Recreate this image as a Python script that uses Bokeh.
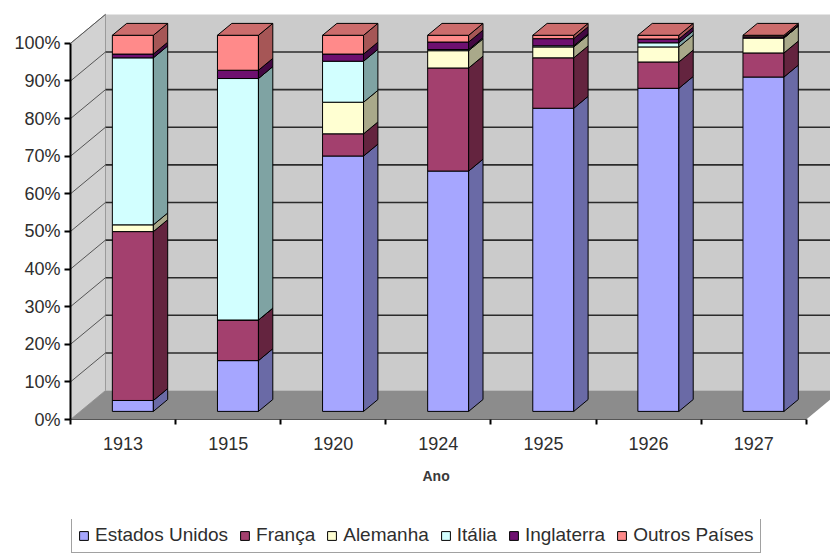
import numpy as np
from bokeh.plotting import figure
from bokeh.layouts import column
from bokeh.models import FixedTicker, Legend, LegendItem, PrintfTickFormatter, Title
from bokeh.embed import file_html
from bokeh.resources import INLINE

# ---------------- data (percent of total) ----------------
years = ["1913", "1915", "1920", "1924", "1925", "1926", "1927"]
series_names = ["Estados Unidos", "França", "Alemanha", "Itália", "Inglaterra", "Outros Países"]
estados_unidos = [2.9, 13.5, 67.9, 63.9, 80.6, 85.9, 88.9]
franca = [44.9, 10.8, 5.9, 27.4, 13.4, 7.0, 6.4]
alemanha = [1.8, 0.0, 8.4, 4.6, 2.9, 4.0, 4.0]
italia = [44.4, 64.2, 10.9, 0.3, 0.3, 1.1, 0.0]
inglaterra = [1.0, 2.2, 1.9, 2.0, 1.9, 1.0, 0.3]
outros = [5.0, 9.3, 5.0, 1.8, 0.9, 1.0, 0.4]
y_ticks = [0, 10, 20, 30, 40, 50, 60, 70, 80, 90, 100]
x_title = "Ano"

# ---------------- styles ----------------
front_colors = ["#a6a6ff", "#a3406e", "#ffffd2", "#d2ffff", "#6e1070", "#ff8a8a"]
side_colors = ["#6a6aa6", "#64243f", "#a9a98a", "#7fa3a3", "#430843", "#a65656"]
top_color = "#cc6c6c"
wall_color = "#cbcbcb"
left_wall_color = "#d2d2d2"
floor_color = "#8c8c8c"
FONT = "Liberation Sans"
TEXT_COLOR = "#2e2e2e"

DX = 0.333   # depth of the 3D box along x (category units)
DY = 7.7     # depth of the 3D box along y (percent units)
Z_FRONT = 0.28
Z_BACK = 0.69
BAR_W = 0.39

N = len(years)
X_MAX = 7.231
Y_MAX = 111.4

p = figure(width=830, height=519, x_range=(0, X_MAX), y_range=(0, Y_MAX),
           output_backend="svg", toolbar_location=None,
           min_border_left=70, min_border_right=0, min_border_top=0, min_border_bottom=100)
p.outline_line_color = None
p.xgrid.visible = False
p.ygrid.visible = False
p.background_fill_color = "white"
p.border_fill_color = "white"

# ---------------- walls and floor ----------------
p.patch([DX, N + DX, N + DX, DX], [DY, DY, 100 + DY, 100 + DY],
        fill_color=wall_color, line_color=None)
p.patch([0, DX, DX, 0], [0, DY, 100 + DY, 100],
        fill_color=left_wall_color, line_color="#9a9a9a", line_width=1)
p.patch([0, N, N + DX, DX], [0, 0, DY, DY],
        fill_color=floor_color, line_color=None)

inner = [v for v in y_ticks if 0 < v < 100]
p.segment(x0=[DX] * len(inner), y0=[v + DY for v in inner],
          x1=[N + DX] * len(inner), y1=[v + DY for v in inner],
          line_color="#2b2b2b", line_width=1.6)
diag = [v for v in y_ticks if v > 0]
p.segment(x0=[0] * len(diag), y0=diag, x1=[DX] * len(diag), y1=[v + DY for v in diag],
          line_color="#555555", line_width=1)

# ---------------- 3D stacked bars ----------------
values = np.array([estados_unidos, franca, alemanha, italia, inglaterra, outros], dtype=float)
totals = values.sum(axis=0)
shares = values / totals * 100.0
cum_top = np.cumsum(shares, axis=0)
cum_bot = cum_top - shares

centers = np.arange(N) + 0.5
xl = centers - BAR_W / 2 + Z_FRONT * DX
xr = centers + BAR_W / 2 + Z_FRONT * DX
yoff = Z_FRONT * DY
dzx = (Z_BACK - Z_FRONT) * DX
dzy = (Z_BACK - Z_FRONT) * DY

fronts = []
for s, name in enumerate(series_names):
    lo = cum_bot[s] + yoff
    hi = cum_top[s] + yoff
    fronts.append((lo, hi))
    p.quad(left=xl, right=xr, bottom=lo, top=hi,
           fill_color=front_colors[s], line_color="black", line_width=1)
    side_xs = [[xr[i], xr[i] + dzx, xr[i] + dzx, xr[i]] for i in range(N)]
    side_ys = [[lo[i], lo[i] + dzy, hi[i] + dzy, hi[i]] for i in range(N)]
    p.patches(side_xs, side_ys, fill_color=side_colors[s], line_color="black", line_width=1)

top_y = cum_top[-1] + yoff
top_xs = [[xl[i], xr[i], xr[i] + dzx, xl[i] + dzx] for i in range(N)]
top_ys = [[top_y[i], top_y[i], top_y[i] + dzy, top_y[i] + dzy] for i in range(N)]
p.patches(top_xs, top_ys, fill_color=top_color, line_color="black", line_width=1)

# ---------------- axes ----------------
ya = p.yaxis[0]
ya.ticker = FixedTicker(ticks=y_ticks, minor_ticks=[])
ya.formatter = PrintfTickFormatter(format="%d%%")
ya.bounds = (0, 100)
ya.axis_line_color = "black"
ya.axis_line_width = 2
ya.major_tick_line_color = "black"
ya.major_tick_line_width = 2
ya.major_tick_out = 6
ya.major_tick_in = 0
ya.major_label_standoff = 4
ya.major_label_text_font = FONT
ya.major_label_text_font_size = "18px"
ya.major_label_text_color = TEXT_COLOR

xa = p.xaxis[0]
xa.ticker = FixedTicker(ticks=list(centers), minor_ticks=list(range(N + 1)))
xa.major_label_overrides = {float(c): y for c, y in zip(centers, years)}
xa.bounds = (0, N)
xa.axis_line_color = "#555555"
xa.axis_line_width = 1
xa.major_tick_out = 0
xa.major_tick_in = 0
xa.minor_tick_out = 5
xa.minor_tick_in = 0
xa.minor_tick_line_color = "black"
xa.minor_tick_line_width = 2
xa.major_label_standoff = 12
xa.major_label_text_font = FONT
xa.major_label_text_font_size = "18px"
xa.major_label_text_color = TEXT_COLOR

# axis title, centred under the category axis (0..N)
t = Title(text=x_title, align="left", offset=352, standoff=27,
          text_font=FONT, text_font_size="14px", text_font_style="bold",
          text_color="#3a3a3a")
p.add_layout(t, "below")

# ---------------- legend strip (same series glyphs, kept out of view) ----------------
pl = figure(width=830, height=34, x_range=(-20, -19), y_range=(0, 1),
            output_backend="svg", toolbar_location=None,
            x_axis_location=None, y_axis_location=None, min_border=0)
pl.outline_line_color = None
pl.xgrid.visible = False
pl.ygrid.visible = False
pl.background_fill_color = "white"
pl.border_fill_color = "white"

legend_items = []
for s, name in enumerate(series_names):
    lo, hi = fronts[s]
    r = pl.quad(left=xl, right=xr, bottom=lo, top=hi,
                fill_color=front_colors[s], line_color="black", line_width=1)
    legend_items.append(LegendItem(label=name, renderers=[r]))

legend = Legend(items=legend_items, orientation="horizontal", location=(1, 0),
                label_text_font=FONT, label_text_font_size="19px", label_text_color=TEXT_COLOR,
                glyph_width=11, glyph_height=11, label_standoff=6, spacing=11, padding=6,
                margin=0, border_line_color="#444444", border_line_width=1.5,
                background_fill_color="white", background_fill_alpha=1.0)
pl.add_layout(legend, "center")

layout = column(p, pl, spacing=0)
open("out.html", "w").write(file_html(layout, INLINE))
